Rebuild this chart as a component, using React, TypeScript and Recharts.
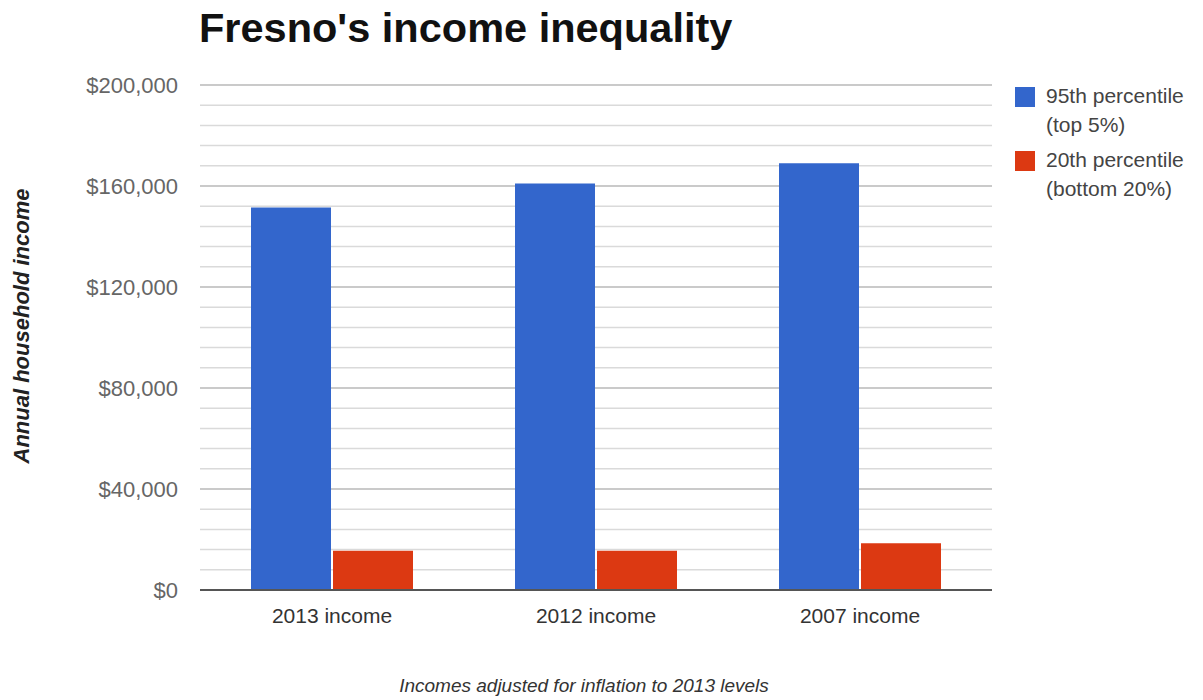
import { BarChart, Bar, XAxis, YAxis, CartesianGrid } from "recharts";

const categories = ["2013 income", "2012 income", "2007 income"];
const top5 = [151500, 161000, 169000];
const bottom20 = [15500, 15500, 18500];
const yTicks = [0, 40000, 80000, 120000, 160000, 200000];
const minorGrid = [0, 8000, 16000, 24000, 32000, 40000, 48000, 56000, 64000, 72000, 80000, 88000, 96000, 104000, 112000, 120000, 128000, 136000, 144000, 152000, 160000, 168000, 176000, 184000, 192000, 200000];
const legendItems = [
  { key: "top5", lines: ["95th percentile", "(top 5%)"] },
  { key: "bottom20", lines: ["20th percentile", "(bottom 20%)"] },
];

const data = categories.map((name, i) => ({ name, top5: top5[i], bottom20: bottom20[i] }));

const BLUE = "#3366cc";
const RED = "#dc3912";
const colors: Record<string, string> = { top5: BLUE, bottom20: RED };
const FONT = "'Liberation Sans', Arial, sans-serif";
const Y_MAX = yTicks[yTicks.length - 1];

function fmt(v: number) {
  return "$" + v.toLocaleString("en-US");
}

// minor lines every $8,000, placed with the y axis scale when we can get it
function minorLines({ yAxis, offset }: any) {
  const s = yAxis && yAxis.scale;
  return minorGrid.map((v) => {
    if (typeof s === "function") return s(v);
    if (s && typeof s.map === "function") return s.map(v);
    return offset.top + offset.height * (1 - v / Y_MAX);
  });
}

export default function App() {
  return (
    <div style={{ position: "absolute", left: 0, top: 0, width: 1203, height: 700, background: "#fff", fontFamily: FONT }}>
      <div style={{ position: "absolute", left: 199, top: 4, fontSize: 41.5, fontWeight: "bold", color: "#111" }}>
        Fresno's income inequality
      </div>
      <div
        style={{
          position: "absolute",
          left: 22,
          top: 326,
          transform: "translate(-50%, -50%) rotate(-90deg)",
          whiteSpace: "nowrap",
          fontSize: 22,
          fontWeight: "bold",
          fontStyle: "italic",
          color: "#222",
        }}
      >
        Annual household income
      </div>
      <div style={{ position: "absolute", left: 0, width: 1168, textAlign: "center", top: 675, fontSize: 19, fontStyle: "italic", color: "#333" }}>
        Incomes adjusted for inflation to 2013 levels
      </div>
      <div style={{ position: "absolute", left: 1015, top: 86, fontSize: 21, color: "#444" }}>
        {legendItems.map((it) => (
          <div key={it.key} style={{ display: "flex", alignItems: "flex-start", marginBottom: 11 }}>
            <div style={{ width: 20, height: 20, background: colors[it.key], marginRight: 11, marginTop: 1 }} />
            <div style={{ lineHeight: "29px", marginTop: -5 }}>
              {it.lines.map((l) => (
                <div key={l}>{l}</div>
              ))}
            </div>
          </div>
        ))}
      </div>
      <BarChart width={1203} height={700} data={data} margin={{ top: 85, right: 211, left: 10, bottom: 70 }} barGap={2}>
        <CartesianGrid vertical={false} horizontalCoordinatesGenerator={minorLines} stroke="#dadada" strokeWidth={1.5} />
        <CartesianGrid vertical={false} stroke="#c2c2c2" strokeWidth={1.5} />
        <XAxis
          dataKey="name"
          height={40}
          tickLine={false}
          axisLine={{ stroke: "#555", strokeWidth: 2 }}
          tick={{ fill: "#333", fontSize: 21, fontFamily: FONT }}
          tickMargin={12}
        />
        <YAxis
          width={190}
          domain={[0, Y_MAX]}
          ticks={yTicks}
          interval={0}
          tickFormatter={fmt}
          axisLine={false}
          tickLine={false}
          tickMargin={16}
          tick={{ fill: "#666", fontSize: 22, fontFamily: FONT }}
        />
        <Bar dataKey="top5" name="95th percentile (top 5%)" fill={BLUE} barSize={80} isAnimationActive={false} />
        <Bar dataKey="bottom20" name="20th percentile (bottom 20%)" fill={RED} barSize={80} isAnimationActive={false} />
      </BarChart>
    </div>
  );
}
